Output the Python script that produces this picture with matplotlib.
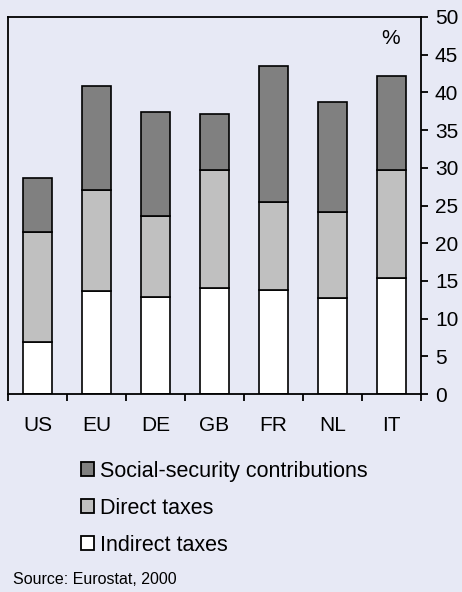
import numpy as np
import matplotlib
matplotlib.use('Agg')
import matplotlib.pyplot as plt
from matplotlib.patches import Patch

# data (% shares)
countries = ['US', 'EU', 'DE', 'GB', 'FR', 'NL', 'IT']
indirect = [6.9, 13.6, 12.8, 14.1, 13.8, 12.7, 15.4]
direct = [14.6, 13.5, 10.8, 15.6, 11.7, 11.5, 14.3]
social = [7.1, 13.7, 13.8, 7.4, 18.0, 14.5, 12.5]

labels = ['Social-security contributions', 'Direct taxes', 'Indirect taxes']
colors = ['#808080', '#c0c0c0', '#ffffff']
bg = '#e7e9f5'

plt.rcParams['font.family'] = ['Liberation Sans', 'DejaVu Sans']

fig = plt.figure(figsize=(4.62, 5.92), dpi=100, facecolor=bg)
ax = fig.add_axes([8 / 462, 1 - 394 / 592, 413 / 462, 377 / 592])
ax.set_facecolor(bg)

x = np.arange(len(countries))
w = 0.5
ind = np.array(indirect)
dirc = np.array(direct)
soc = np.array(social)
ax.bar(x, ind, w, color=colors[2], edgecolor='black', linewidth=1.2)
ax.bar(x, dirc, w, bottom=ind, color=colors[1], edgecolor='black', linewidth=1.2)
ax.bar(x, soc, w, bottom=ind + dirc, color=colors[0], edgecolor='black', linewidth=1.2)

ax.set_xlim(-0.5, len(countries) - 0.5)
ax.set_ylim(0, 50)
ax.set_yticks(np.arange(0, 51, 5))
ax.yaxis.tick_right()
ax.tick_params(axis='y', direction='out', length=5, width=1.3, labelsize=15, pad=5)
ax.set_xticks(x)
ax.set_xticklabels(countries)
ax.tick_params(axis='x', length=0, labelsize=15, pad=16)
ax.set_xticks(np.arange(-0.5, len(countries), 1), minor=True)
ax.tick_params(axis='x', which='minor', direction='out', length=5, width=1.3)
for s in ax.spines.values():
    s.set_linewidth(1.3)

ax.text(0.95, 0.967, '%', transform=ax.transAxes, ha='right', va='top', fontsize=15)

handles = [Patch(facecolor=c, edgecolor='black', linewidth=1.3) for c in colors]
fig.legend(handles, labels, loc='upper left', bbox_to_anchor=(72 / 462, 1 - 452 / 592),
           frameon=False, fontsize=15.5, handlelength=0.6, handleheight=0.6,
           handletextpad=0.3, labelspacing=0.75, borderaxespad=0)

fig.text(13 / 462, 1 - 580 / 592, 'Source: Eurostat, 2000', fontsize=11.5, va='center')

fig.savefig('out.png', dpi=100, facecolor=bg)
